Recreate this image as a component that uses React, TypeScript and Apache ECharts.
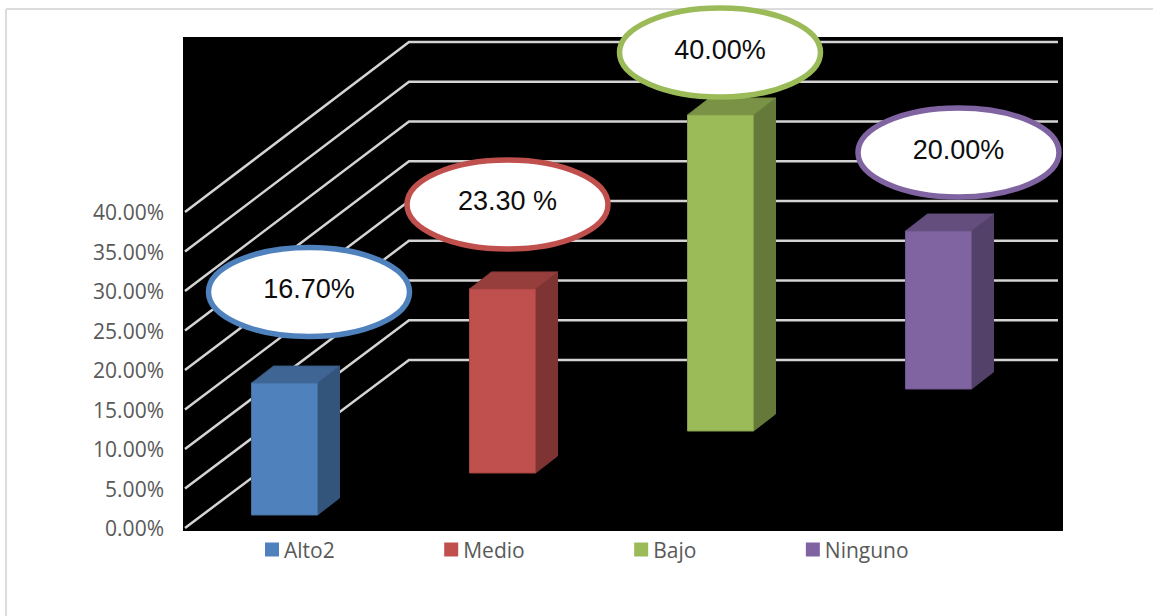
import React, { useEffect, useRef } from "react";
import * as echarts from "echarts";

const categories = ["Alto2", "Medio", "Bajo", "Ninguno"];
const shareValues = [16.7, 23.3, 40, 20];
const calloutTexts = ["16.70%", "23.30 %", "40.00%", "20.00%"];
const barColors = ["#4f81bd", "#c0504d", "#9bbb59", "#8064a2"];
const axisTicks = [0, 5, 10, 15, 20, 25, 30, 35, 40];

// Callout centre relative to the middle of each bar's top front edge.
const calloutOffsets = [
  [24.5, -91],
  [5, -84.5],
  [-0.5, -62.5],
  [20, -78.5],
];

// Oblique projection of the pseudo-3D scene, in pixels.
const BAR_WIDTH = 66;
const DEPTH_X = 22;
const DEPTH_Y = 17;
const FLOOR_LIFT_FIRST = 13;
const FLOOR_LIFT_STEP = 42;
const WALL_LEFT = 185;
const WALL_BACK = 409;
const WALL_RIGHT = 1058;

const shade = (hex: string, k: number) => {
  const n = parseInt(hex.slice(1), 16);
  const c = [(n >> 16) & 255, (n >> 8) & 255, n & 255].map((v) => Math.round(v * k));
  return `rgb(${c[0]},${c[1]},${c[2]})`;
};

const wallLines = (_: unknown, api: any) => {
  const v = api.value(1);
  const y = api.coord([0, v])[1];
  const backY = y - 168 - v * 0.05;
  return {
    type: "polyline",
    shape: { points: [[WALL_LEFT, y], [WALL_BACK, backY], [WALL_RIGHT, backY]] },
    style: { fill: "none", stroke: "#d4d4d4", lineWidth: 2.5 },
  };
};

const barWithDepth = (color: string) => (_: unknown, api: any) => {
  const index = api.value(0);
  const lift = FLOOR_LIFT_FIRST + FLOOR_LIFT_STEP * index;
  const [cx, topAxis] = api.coord([index, api.value(1)]);
  const baseAxis = api.coord([index, 0])[1];
  const x0 = cx - BAR_WIDTH / 2;
  const x1 = cx + BAR_WIDTH / 2;
  const top = topAxis - lift;
  const base = baseAxis - lift;
  return {
    type: "group",
    children: [
      {
        type: "polygon",
        shape: { points: [[x1, top], [x1 + DEPTH_X, top - DEPTH_Y], [x1 + DEPTH_X, base - DEPTH_Y], [x1, base]] },
        style: { fill: shade(color, 0.65), stroke: shade(color, 0.65), lineWidth: 1 },
      },
      {
        type: "polygon",
        shape: { points: [[x0, top], [x0 + DEPTH_X, top - DEPTH_Y], [x1 + DEPTH_X, top - DEPTH_Y], [x1, top]] },
        style: { fill: shade(color, 0.78), stroke: shade(color, 0.72), lineWidth: 1 },
      },
      {
        type: "rect",
        shape: { x: x0, y: top, width: BAR_WIDTH, height: base - top },
        style: { fill: color, stroke: shade(color, 0.85), lineWidth: 1 },
      },
    ],
  };
};

const callout = (color: string, text: string, offset: number[]) => (_: unknown, api: any) => {
  const index = api.value(0);
  const lift = FLOOR_LIFT_FIRST + FLOOR_LIFT_STEP * index;
  const [cx, topAxis] = api.coord([index, api.value(1)]);
  const ex = cx + offset[0];
  const ey = topAxis - lift + offset[1];
  return {
    type: "group",
    children: [
      {
        type: "ellipse",
        shape: { cx: ex, cy: ey, rx: 100.5, ry: 44.5 },
        style: { fill: "#ffffff", stroke: color, lineWidth: 5.5 },
      },
      {
        type: "text",
        style: {
          text,
          x: ex,
          y: ey - 3,
          align: "center",
          verticalAlign: "middle",
          fontFamily: "Liberation Sans",
          fontSize: 27,
          fill: "#0d0d0d",
        },
      },
    ],
  };
};

export default function App() {
  const ref = useRef<HTMLDivElement>(null);

  useEffect(() => {
    const chart = echarts.init(ref.current!, undefined, { renderer: "svg" });
    chart.setOption({
      animation: false,
      backgroundColor: "#ffffff",
      grid: { left: 175.5, top: 212, width: 872, height: 316 },
      xAxis: { type: "category", data: categories, show: false },
      yAxis: {
        type: "value",
        min: 0,
        max: 40,
        interval: 5,
        splitLine: { show: false },
        axisLine: { show: false },
        axisTick: { show: false },
        axisLabel: {
          margin: 11.5,
          formatter: (v: number) => `${v.toFixed(2)}%`,
          fontFamily: "Open Sans",
          fontSize: 21,
          color: "#595959",
        },
      },
      legend: {
        data: categories,
        left: 265,
        top: 539,
        padding: 0,
        itemWidth: 14,
        itemHeight: 14,
        itemGap: 109.5,
        icon: "rect",
        selectedMode: false,
        textStyle: { fontFamily: "Open Sans", fontSize: 21, color: "#595959" },
      },
      graphic: [
        { type: "line", shape: { x1: 6, y1: 9, x2: 1153, y2: 9 }, style: { stroke: "#dcdcdc", lineWidth: 2 } },
        { type: "line", shape: { x1: 6, y1: 9, x2: 6, y2: 616 }, style: { stroke: "#dcdcdc", lineWidth: 2 } },
        { type: "rect", shape: { x: 183, y: 37, width: 880, height: 494 }, style: { fill: "#000000" } },
      ],
      series: [
        {
          type: "custom",
          name: "wall",
          renderItem: wallLines,
          data: axisTicks.map((v) => [0, v]),
          z: 2,
          silent: true,
        },
        ...categories.map((name, i) => ({
          type: "custom",
          name,
          itemStyle: { color: barColors[i] },
          renderItem: barWithDepth(barColors[i]),
          data: [[i, shareValues[i]]],
          z: 3,
          silent: true,
        })),
        ...categories.map((name, i) => ({
          type: "custom",
          name: `${name} callout`,
          renderItem: callout(barColors[i], calloutTexts[i], calloutOffsets[i]),
          data: [[i, shareValues[i]]],
          z: 4,
          silent: true,
        })),
      ],
    });
    return () => chart.dispose();
  }, []);

  return <div ref={ref} style={{ position: "fixed", left: 0, top: 0, width: 1153, height: 616 }} />;
}
